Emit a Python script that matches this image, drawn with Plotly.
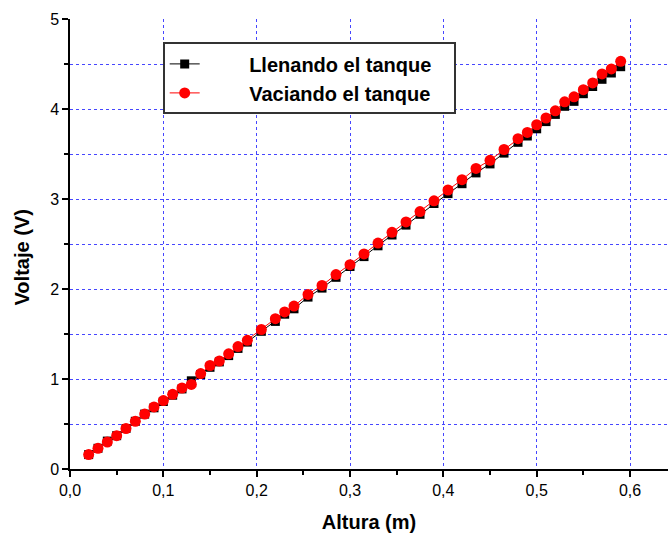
import plotly.graph_objects as go

# Heights (m) at which the sensor voltage was recorded
altura = [0.02, 0.03, 0.04, 0.05, 0.06, 0.07, 0.08, 0.09, 0.10, 0.11, 0.12, 0.13,
          0.14, 0.15, 0.16, 0.17, 0.18, 0.19, 0.205, 0.22, 0.23, 0.24, 0.255, 0.27,
          0.285, 0.30, 0.315, 0.33, 0.345, 0.36, 0.375, 0.39, 0.405, 0.42, 0.435,
          0.45, 0.465, 0.48, 0.49, 0.50, 0.51, 0.52, 0.53, 0.54, 0.55, 0.56, 0.57,
          0.58, 0.59]

# Voltage while filling the tank
v_llenando = [0.16, 0.23, 0.31, 0.37, 0.45, 0.53, 0.61, 0.68, 0.75, 0.82, 0.89, 0.98,
              1.05, 1.13, 1.19, 1.26, 1.34, 1.41, 1.53, 1.64, 1.72, 1.78, 1.91, 2.01,
              2.13, 2.25, 2.36, 2.48, 2.60, 2.71, 2.83, 2.95, 3.06, 3.17, 3.29,
              3.39, 3.51, 3.63, 3.70, 3.78, 3.86, 3.94, 4.03, 4.085, 4.17, 4.25, 4.33,
              4.40, 4.47]

# Voltage while emptying the tank
v_vaciando = [0.16, 0.23, 0.30, 0.37, 0.45, 0.53, 0.61, 0.69, 0.76, 0.83, 0.90, 0.94,
              1.06, 1.15, 1.20, 1.28, 1.36, 1.43, 1.55, 1.67, 1.745, 1.81, 1.94, 2.04,
              2.16, 2.27, 2.39, 2.51, 2.63, 2.745, 2.86, 2.98, 3.10, 3.215, 3.34,
              3.43, 3.55, 3.67, 3.74, 3.825, 3.90, 3.98, 4.08, 4.135, 4.215, 4.29, 4.39,
              4.445, 4.53]

series_names = ["Llenando el tanque", "Vaciando el tanque"]

FONT = "Liberation Sans, Arial, sans-serif"
GRID = "rgb(70,70,255)"
LEAD = "\u00a0" * 8   # room between the legend symbol and its label
TRAIL = "\u00a0" * 3  # right-hand padding inside the legend box

fig = go.Figure()
fig.add_trace(go.Scatter(
    x=altura, y=v_llenando, mode="lines+markers", name=LEAD + series_names[0] + TRAIL,
    line=dict(color="black", width=1),
    marker=dict(symbol="square", size=9, color="black", line=dict(width=0)),
))
fig.add_trace(go.Scatter(
    x=altura, y=v_vaciando, mode="lines+markers", name=LEAD + series_names[1] + TRAIL,
    line=dict(color="red", width=1),
    marker=dict(symbol="circle", size=11, color="red", line=dict(width=0)),
))

fig.update_layout(
    width=668, height=535,
    margin=dict(l=70, r=0, t=19, b=66),
    paper_bgcolor="white", plot_bgcolor="white",
    separators=",.",
    font=dict(family=FONT, size=16, color="black"),
    legend=dict(
        x=0.155, y=0.948, xanchor="left", yanchor="top",
        bgcolor="white", bordercolor="#333333", borderwidth=2,
        font=dict(family=FONT, size=20, color="black", weight="bold"),
        tracegroupgap=0,
    ),
    showlegend=True,
    annotations=[dict(
        text="<b>Voltaje (V)</b>", textangle=-90,
        xref="paper", yref="paper", x=-0.0803, y=0.47,
        xanchor="center", yanchor="middle", showarrow=False,
        font=dict(family=FONT, size=20, color="black"),
    )],
)

fig.update_xaxes(
    range=[0, 0.6407], dtick=0.1, tick0=0, tickformat=".1f",
    showline=True, linecolor="black", linewidth=1.5,
    ticks="outside", ticklen=6, tickwidth=1.5, tickcolor="black",
    showgrid=True, gridcolor=GRID, gridwidth=1, griddash="dot",
    zeroline=False,
    minor=dict(dtick=0.05, ticks="outside", ticklen=4, tickwidth=1.5,
               tickcolor="black", showgrid=False),
    title=dict(text="<b>Altura (m)</b>", font=dict(family=FONT, size=20), standoff=17),
    tickfont=dict(family=FONT, size=16),
)
fig.update_yaxes(
    range=[0, 5], dtick=1, tick0=0,
    showline=True, linecolor="black", linewidth=1.5,
    ticks="outside", ticklen=6, tickwidth=1.5, tickcolor="black",
    showgrid=True, gridcolor=GRID, gridwidth=1, griddash="dot",
    zeroline=False,
    minor=dict(dtick=0.5, ticks="outside", ticklen=4, tickwidth=1.5,
               tickcolor="black", showgrid=True, gridcolor=GRID,
               gridwidth=1, griddash="dot"),
    tickfont=dict(family=FONT, size=16),
)

fig.write_html("out.html")
